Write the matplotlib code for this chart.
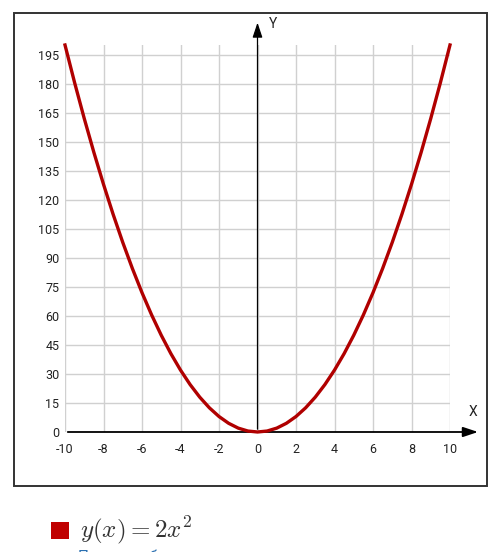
import matplotlib
matplotlib.use('Agg')
import matplotlib.pyplot as plt
from matplotlib.patches import Rectangle

# points
x_vals = [-10, -9.5, -9, -8.5, -8, -7.5, -7, -6.5, -6, -5.5, -5, -4.5, -4, -3.5, -3, -2.5, -2, -1.5, -1, -0.5,
          0, 0.5, 1, 1.5, 2, 2.5, 3, 3.5, 4, 4.5, 5, 5.5, 6, 6.5, 7, 7.5, 8, 8.5, 9, 9.5, 10]
y_vals = [200, 180.5, 162, 144.5, 128, 112.5, 98, 84.5, 72, 60.5, 50, 40.5, 32, 24.5, 18, 12.5, 8, 4.5, 2, 0.5,
          0, 0.5, 2, 4.5, 8, 12.5, 18, 24.5, 32, 40.5, 50, 60.5, 72, 84.5, 98, 112.5, 128, 144.5, 162, 180.5, 200]
x_ticks = [-10, -8, -6, -4, -2, 0, 2, 4, 6, 8, 10]
y_ticks = [0, 15, 30, 45, 60, 75, 90, 105, 120, 135, 150, 165, 180, 195]
legend_label = r'$y(x) = 2x^2$'

plt.rcParams['font.family'] = ['Roboto', 'DejaVu Sans']
plt.rcParams['mathtext.fontset'] = 'cm'
plt.rcParams['axes.unicode_minus'] = False

fig = plt.figure(figsize=(5, 5.52), dpi=100)

# outer frame
fig.patches.append(Rectangle((0.028, 0.1196), 0.946, 0.8568, transform=fig.transFigure,
                             fill=False, edgecolor='#333333', linewidth=1.4))

ax = fig.add_axes([0.13, 0.2174, 0.77, 0.7011])
ax.set_xlim(-10, 10)
ax.set_ylim(0, 200)
for s in ax.spines.values():
    s.set_visible(False)

ax.set_xticks(x_ticks)
ax.set_yticks(y_ticks)
ax.tick_params(length=0, labelsize=9, colors='#222222')
ax.tick_params(axis='x', pad=8)
ax.tick_params(axis='y', pad=4)

for xv in x_ticks:
    ax.axvline(xv, color='#d0d0d0', linewidth=1, zorder=0)
for yv in y_ticks[1:]:
    ax.axhline(yv, color='#d0d0d0', linewidth=1, zorder=0)

# axis arrows
ax.annotate('', xy=(11.6, 0), xytext=(-10, 0), annotation_clip=False,
            arrowprops=dict(arrowstyle='-|>,head_length=0.9,head_width=0.3', color='black', lw=1.3))
ax.annotate('', xy=(0, 213), xytext=(0, 0), annotation_clip=False,
            arrowprops=dict(arrowstyle='-|>,head_length=0.9,head_width=0.3', color='black', lw=0.9))
ax.text(11.2, 10.5, 'X', fontsize=10, color='#222222', ha='center', va='center')
ax.text(0.8, 211, 'Y', fontsize=10, color='#222222', ha='center', va='center', clip_on=False)

ax.plot(x_vals, y_vals, color='#b00000', linewidth=2.4, zorder=3, clip_on=False)

# legend below
fig.patches.append(Rectangle((0.102, 0.0235), 0.036, 0.031, transform=fig.transFigure,
                             facecolor='#c00000', edgecolor='none'))
fig.text(0.160, 0.040, legend_label, fontsize=18, va='center', ha='left', color='#333333')
fig.text(0.156, -0.022, 'Показать больше', fontsize=11, color='#2a6fb0', va='bottom', ha='left')

plt.savefig('out.png', dpi=100)
plt.close()
